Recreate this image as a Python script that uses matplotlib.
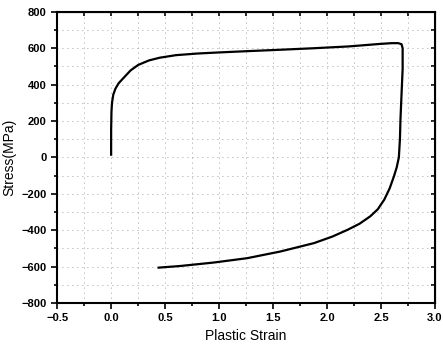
import matplotlib
matplotlib.use("Agg")
import matplotlib.pyplot as plt
from matplotlib.ticker import MultipleLocator

# Cyclic loading curve
strain = [0.0, 0.0, 0.003, 0.008, 0.02, 0.04, 0.07, 0.12, 0.18, 0.25, 0.35, 0.45, 0.6,
          0.8, 1.0, 1.26, 1.5, 1.875, 2.2, 2.495, 2.6, 2.66, 2.69, 2.70, 2.70, 2.69,
          2.68, 2.675, 2.665, 2.645, 2.62, 2.58, 2.53, 2.47, 2.40, 2.30, 2.19, 2.05,
          1.88, 1.57, 1.26, 0.95, 0.64, 0.44]
stress = [15, 150, 250, 300, 345, 378, 408, 440, 478, 508, 533, 548, 562,
          571, 577, 584, 590, 600, 610, 624, 628, 628, 622, 600, 486, 350,
          210, 100, 0, -55, -103, -170, -232, -285, -324, -365, -398, -435,
          -471, -517, -554, -578, -597, -606]

plt.rcParams['font.family'] = ['Liberation Sans', 'DejaVu Sans']

fig = plt.figure(figsize=(4.43, 3.49), dpi=100)
ax = fig.add_axes([0.129, 0.132, 0.853, 0.834])

ax.plot(strain, stress, color="black", lw=1.6)

ax.set_xlim(-0.5, 3.0)
ax.set_ylim(-800, 800)
ax.xaxis.set_major_locator(MultipleLocator(0.5))
ax.xaxis.set_minor_locator(MultipleLocator(0.25))
ax.yaxis.set_major_locator(MultipleLocator(200))
ax.yaxis.set_minor_locator(MultipleLocator(100))
ax.grid(True, which="both", color="gray", ls=(0, (1, 5)), lw=0.6)

ax.tick_params(which="both", direction="out", width=1.2, labelsize=8)
ax.tick_params(which="major", length=4)
ax.tick_params(which="minor", length=2.5)
for lab in ax.get_xticklabels() + ax.get_yticklabels():
    lab.set_fontweight("bold")
for sp in ax.spines.values():
    sp.set_linewidth(1.5)

# mirrored ticks on top and right, pointing in
top = ax.secondary_xaxis("top")
top.xaxis.set_major_locator(MultipleLocator(0.5))
top.xaxis.set_minor_locator(MultipleLocator(0.25))
top.tick_params(which="both", direction="in", labeltop=False, width=1.2, length=3)
right = ax.secondary_yaxis("right")
right.yaxis.set_major_locator(MultipleLocator(200))
right.yaxis.set_minor_locator(MultipleLocator(100))
right.tick_params(which="both", direction="in", labelright=False, width=1.2, length=3)

ax.set_xlabel("Plastic Strain", fontsize=10)
ax.set_ylabel("Stress(MPa)", fontsize=10)

fig.savefig("out.png", dpi=100)
